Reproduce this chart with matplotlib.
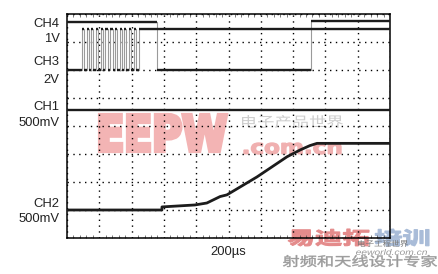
import matplotlib
matplotlib.use("Agg")
import matplotlib.pyplot as plt
from matplotlib.textpath import TextPath
from matplotlib.patches import PathPatch
from matplotlib.font_manager import FontProperties
from matplotlib.transforms import Affine2D
from matplotlib.ticker import MultipleLocator

plt.rcParams["font.family"] = ["Liberation Sans", "Noto Sans CJK SC", "DejaVu Sans"]

W, H = 439, 274

# ── Scope traces (x in divisions at 200us/div, y in screen divisions) ──────
ch4_t = [0.0, 2.79, 7.55, 10.0]
ch4_v = [7.73, 6.00, 7.75, 7.75]

ch3_t = [0.0, 0.46, 0.53, 0.61, 0.68, 0.75, 0.82, 0.90, 0.97, 1.04, 1.11,
         1.19, 1.26, 1.34, 1.41, 1.48, 1.55, 1.63, 1.70, 1.77, 1.84,
         1.92, 1.99, 2.07, 2.14, 2.22, 10.0]
ch3_v = [6.00, 7.46, 6.00, 7.46, 6.00, 7.46, 6.00, 7.46, 6.00, 7.46, 6.00,
         7.46, 6.00, 7.46, 6.00, 7.46, 6.00, 7.46, 6.00, 7.46, 6.00,
         7.46, 6.00, 7.46, 6.00, 7.46, 7.46]

ch1_t = [0.0, 10.0]
ch1_v = [4.57, 4.57]

ch2_t = [0.0, 2.94, 2.94, 3.96, 4.33, 4.74, 4.95, 5.88, 6.81, 7.21, 7.52, 7.74, 10.0]
ch2_v = [1.00, 1.00, 1.11, 1.18, 1.25, 1.48, 1.54, 2.18, 2.90, 3.14, 3.30, 3.38, 3.38]

# channel labels: (text, y pixel)
labels = [("CH4", 23.7), ("1V", 39.5), ("CH3", 61.7), ("2V", 80.0),
          ("CH1", 107.3), ("500mV", 122.7), ("CH2", 204.0), ("500mV", 219.3)]
timebase = "200µs"

TRACE = "#1c1c1c"
EDGE = "#9a9a9a"

fig = plt.figure(figsize=(W / 100, H / 100), dpi=100)
ax = fig.add_axes([67 / W, 1 - 238 / H, (390 - 67) / W, (238 - 14) / H])
ax.set_facecolor("none")
ax.set_xlim(0, 10)
ax.set_ylim(0, 8)

ax.xaxis.set_major_locator(MultipleLocator(1))
ax.yaxis.set_major_locator(MultipleLocator(1))
ax.xaxis.set_minor_locator(MultipleLocator(0.2))
ax.tick_params(which="both", direction="in", top=True, right=True,
               labelbottom=False, labelleft=False, color="#444")
ax.tick_params(which="major", length=0)
ax.tick_params(which="minor", length=2, width=0.5)
ax.grid(True, which="major", color="black", linestyle=(0, (1, 3.2)), linewidth=1.0)
for s in ax.spines.values():
    s.set_linewidth(1.1)

# traces: gray fast edges, dark levels
for t, v in [(ch4_t, ch4_v), (ch3_t, ch3_v)]:
    ax.step(t, v, where="post", color=EDGE, linewidth=0.8, zorder=3)
    for i in range(len(t) - 1):
        ax.hlines(v[i], t[i], t[i + 1], color=TRACE, linewidth=1.7, zorder=4)
ax.plot(ch1_t, ch1_v, color=TRACE, linewidth=1.7, zorder=4)
ax.plot(ch2_t, ch2_v, color=TRACE, linewidth=2.0, zorder=4)

for txt, ypx in labels:
    fig.text(59.5 / W, 1 - ypx / H, txt, ha="right", va="center",
             fontsize=9.4, color="#222")
fig.text(228 / W, 1 - 251.5 / H, timebase, ha="center", va="center",
         fontsize=9.4, color="#222")


# ── watermarks, fitted into pixel boxes ────────────────────────────────────
def stamp(text, x0, y0, x1, y1, color, family, weight="normal", style="normal", lw=0.0):
    prop = FontProperties(family=family, weight=weight, style=style)
    tp = TextPath((0, 0), text, size=1, prop=prop)
    ext = tp.get_extents()
    sx = (x1 - x0) / W / ext.width
    sy = (y1 - y0) / H / ext.height
    tr = Affine2D().translate(-ext.x0, -ext.y0).scale(sx, sy).translate(x0 / W, 1 - y1 / H)
    patch = PathPatch(tr.transform_path(tp), facecolor=color,
                      edgecolor=color if lw else "none", linewidth=lw,
                      joinstyle="miter", transform=fig.transFigure, zorder=-1)
    fig.add_artist(patch)


stamp("EEPW", 100, 115, 226, 151, "#f3b4b4", "DejaVu Sans", "bold", lw=3.0)
stamp(".com.cn", 244, 143, 341, 154, "#f0b0b0", "DejaVu Sans", "bold", lw=1.0)
stamp("电子产品世界", 242, 115, 343, 128, "#cdcdcd", "Noto Sans CJK SC")
stamp("易迪拓", 288, 229, 369, 246, "#e48b8b", "Noto Sans CJK SC", "bold", lw=0.8)
stamp("培训", 375, 229, 429, 246, "#a9bcd8", "Noto Sans CJK SC", "bold", lw=0.8)
stamp("射频和天线设计专家", 283, 255, 437, 267, "#9a9a9a", "Noto Sans CJK SC", lw=0.3)
stamp("电子工程世界", 358, 240, 408, 247, "#777777", "Noto Sans CJK SC")
stamp("eeworld.com.cn", 356, 249, 427, 255, "#9a9a9a", "Liberation Sans", style="italic")

fig.savefig("out.png", dpi=100)
